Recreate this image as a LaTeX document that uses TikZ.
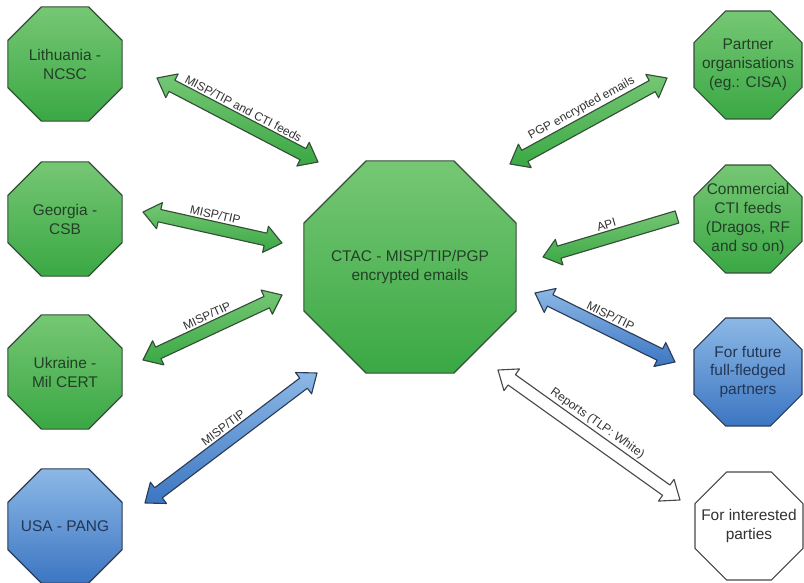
\documentclass[tikz,border=0pt]{standalone}
\usepackage{fontspec}
\setmainfont{Liberation Sans}
\usetikzlibrary{calc,shapes.geometric}
\definecolor{leaftop}{RGB}{118,199,116}
\definecolor{leafbot}{RGB}{58,168,68}
\definecolor{leafline}{RGB}{52,78,56}
\definecolor{leafink}{RGB}{34,64,38}
\definecolor{skytop}{RGB}{140,184,230}
\definecolor{skybot}{RGB}{60,118,194}
\definecolor{skyline}{RGB}{44,60,84}
\definecolor{skyink}{RGB}{34,54,84}
\definecolor{greyline}{RGB}{72,72,72}
\definecolor{greyink}{RGB}{50,50,50}
\tikzset{
  octa/.style={regular polygon,regular polygon sides=8,inner sep=0pt,line width=0.8pt},
  greenocta/.style={octa,draw=leafline,top color=leaftop,bottom color=leafbot},
  blueocta/.style={octa,draw=skyline,top color=skytop,bottom color=skybot},
  whiteocta/.style={octa,draw=greyline,fill=white},
  side/.style={minimum size=3.09cm},
  sidenarrow/.style={minimum size=2.92cm},
  hub/.style={minimum size=5.74cm},
  greentext/.style={font=\fontsize{11}{13.5}\selectfont,align=center,text=leafink},
  bluetext/.style={font=\fontsize{11}{13.5}\selectfont,align=center,text=skyink},
  whitetext/.style={font=\fontsize{11}{13.5}\selectfont,align=center,text=greyink},
  greenlink/.style={line width=0.8pt,line join=round,draw=leafline,top color=leaftop,bottom color=leafbot},
  bluelink/.style={line width=0.8pt,line join=round,draw=skyline,top color=skytop,bottom color=skybot},
  whitelink/.style={line width=0.8pt,line join=round,draw=greyline,fill=white},
  linklabel/.style={font=\fontsize{8.5}{10}\selectfont,text=greyink,inner sep=1pt}
}
\newcommand{\headlen}{12pt}
\newcommand{\headw}{9.5pt}
\newcommand{\shaftw}{4.5pt}
% fat arrow with a head at both ends: style, from, to, label
\newcommand{\twowaylink}[4]{%
  \coordinate (fa) at ($(#2)!\headlen!(#3)$);
  \coordinate (fb) at ($(#3)!\headlen!(#2)$);
  \draw[#1] (#2) -- ($(fa)!\headw!90:(#3)$) -- ($(fa)!\shaftw!90:(#3)$)
    -- ($(fb)!\shaftw!-90:(#2)$) -- ($(fb)!\headw!-90:(#2)$) -- (#3)
    -- ($(fb)!\headw!90:(#2)$) -- ($(fb)!\shaftw!90:(#2)$)
    -- ($(fa)!\shaftw!-90:(#3)$) -- ($(fa)!\headw!-90:(#3)$) -- cycle;
  \path (#2) -- (#3) node[midway,sloped,above=5pt,linklabel]{#4};
}
% fat arrow with one head, at the second point
\newcommand{\onewaylink}[4]{%
  \coordinate (fb) at ($(#3)!\headlen!(#2)$);
  \draw[#1] ($(#2)!\shaftw!90:(#3)$) -- ($(fb)!\shaftw!-90:(#2)$)
    -- ($(fb)!\headw!-90:(#2)$) -- (#3) -- ($(fb)!\headw!90:(#2)$)
    -- ($(fb)!\shaftw!90:(#2)$) -- ($(#2)!\shaftw!-90:(#3)$) -- cycle;
  \path (#2) -- (#3) node[midway,sloped,above=5pt,linklabel]{#4};
}

\begin{document}
\begin{tikzpicture}[x=0.025cm,y=-0.025cm]
  \useasboundingbox (0,0) rectangle (804,583);

  % centre
  \node[greenocta,hub,label={[greentext]center:{CTAC - MISP/TIP/PGP\\encrypted emails}}] (ctac) at (410,267) {};

  % left column
  \node[greenocta,side,label={[greentext]center:{Lithuania -\\NCSC}}] (lit) at (65,64) {};
  \node[greenocta,side,label={[greentext]center:{Georgia -\\CSB}}] (geo) at (65,219) {};
  \node[greenocta,side,label={[greentext]center:{Ukraine -\\Mil CERT}}] (ukr) at (65,372) {};
  \node[blueocta,side,label={[bluetext]center:{USA - PANG}}] (usa) at (65,526) {};

  % right column
  \node[greenocta,sidenarrow,label={[greentext]center:{Partner\\organisations\\(eg.: CISA)}}] (par) at (748,65) {};
  \node[greenocta,sidenarrow,label={[greentext]center:{Commercial\\CTI feeds\\(Dragos, RF\\and so on)}}] (com) at (748,219) {};
  \node[blueocta,sidenarrow,label={[bluetext]center:{For future\\full-fledged\\partners}}] (fut) at (748,372) {};
  \node[whiteocta,sidenarrow,label={[whitetext]center:{For interested\\parties}}] (int) at (749,526) {};

  % arrow ends
  \coordinate (lit-a) at ($(lit)+(92,14)$);
  \coordinate (lit-b) at ($(ctac)+(-92,-105)$);
  \coordinate (geo-a) at ($(geo)+(78,-7)$);
  \coordinate (geo-b) at ($(ctac)+(-128,-24)$);
  \coordinate (ukr-a) at ($(ukr)+(78,-12)$);
  \coordinate (ukr-b) at ($(ctac)+(-128,28)$);
  \coordinate (usa-a) at ($(usa)+(80,-23)$);
  \coordinate (usa-b) at ($(ctac)+(-93,106)$);
  \coordinate (par-a) at ($(par)+(-81,13)$);
  \coordinate (par-b) at ($(ctac)+(100,-103)$);
  \coordinate (com-a) at ($(com)+(-71,-2)$);
  \coordinate (com-b) at ($(ctac)+(133,-10)$);
  \coordinate (fut-a) at ($(fut)+(-73,-10)$);
  \coordinate (fut-b) at ($(ctac)+(125,26)$);
  \coordinate (int-a) at ($(int)+(-69,-26)$);
  \coordinate (int-b) at ($(ctac)+(88,103)$);

  \twowaylink{greenlink}{lit-a}{lit-b}{MISP/TIP and CTI feeds}
  \twowaylink{greenlink}{geo-a}{geo-b}{MISP/TIP}
  \twowaylink{greenlink}{ukr-a}{ukr-b}{MISP/TIP}
  \twowaylink{bluelink}{usa-a}{usa-b}{MISP/TIP}
  \twowaylink{greenlink}{par-b}{par-a}{PGP encrypted emails}
  \onewaylink{greenlink}{com-a}{com-b}{API}
  \twowaylink{bluelink}{fut-b}{fut-a}{MISP/TIP}
  \twowaylink{whitelink}{int-b}{int-a}{Reports (TLP: White)}
\end{tikzpicture}
\end{document}
